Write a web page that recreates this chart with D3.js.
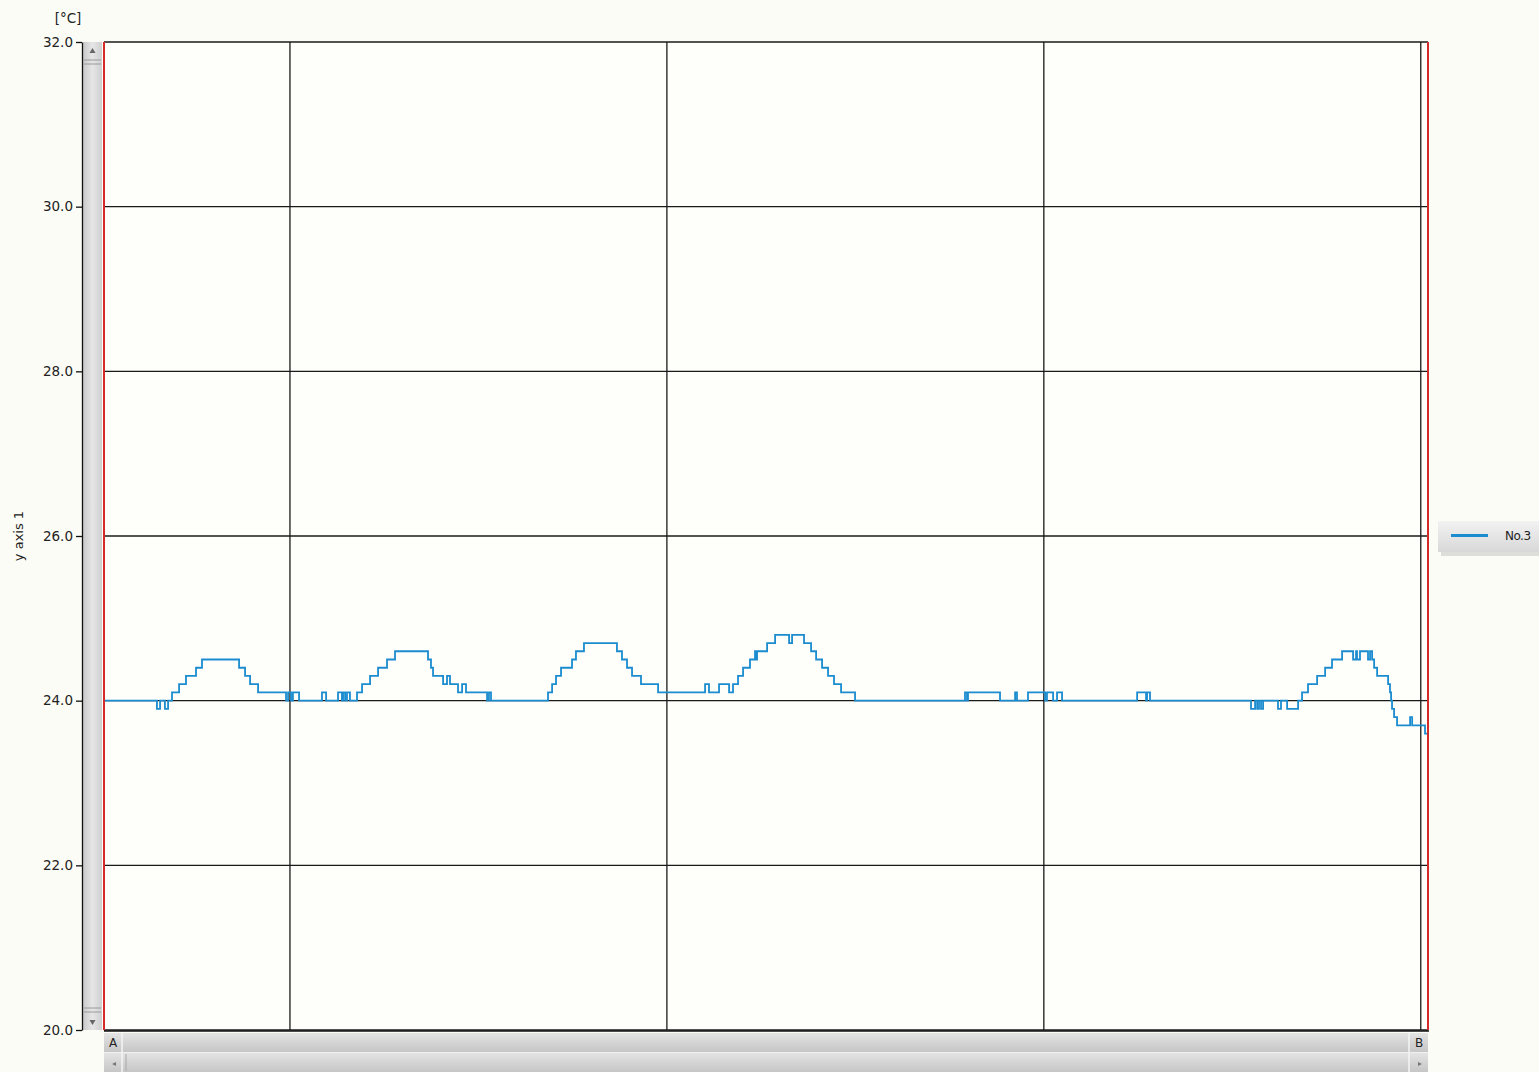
<!DOCTYPE html>
<html>
<head>
<meta charset="utf-8">
<script src="https://cdn.jsdelivr.net/npm/d3@7"></script>
<style>
  html, body { margin: 0; padding: 0; background: #fcfcf6; }
  svg { display: block; }
  text { font-family: "DejaVu Sans", Verdana, sans-serif; fill: #222; }
</style>
</head>
<body>
<div id="chart"></div>
<script>
// temperature logger No.3, time in hours from start, value in °C (step data)
var zeiter = [0.00, 3.37, 3.57, 3.88, 4.08, 4.33, 4.78, 5.22, 5.86, 6.24, 8.60, 8.98, 9.30, 9.81,
    11.59, 11.72, 11.91, 12.03, 12.42, 13.88, 14.14, 14.90, 15.15, 15.22, 15.35, 15.47, 15.66,
    16.11, 16.43, 16.94, 17.45, 18.02, 18.53, 20.63, 20.82, 20.95, 21.59, 21.84, 22.03, 22.54,
    22.80, 23.05, 24.39, 24.51, 24.64, 28.27, 28.53, 28.78, 29.10, 29.80, 30.05, 30.56, 32.66,
    32.98, 33.30, 33.62, 34.19, 35.28, 38.27, 38.52, 39.16, 39.80, 40.05, 40.37, 40.69, 41.13,
    41.45, 41.52, 41.58, 42.22, 42.73, 43.62, 43.81, 44.57, 45.02, 45.34, 45.72, 46.10, 46.48,
    46.93, 47.82, 54.82, 54.95, 55.01, 57.05, 58.01, 58.13, 58.83, 59.92, 60.04, 60.43, 60.68,
    61.00, 65.78, 66.35, 66.41, 66.60, 73.03, 73.29, 73.42, 73.54, 73.67, 73.80, 74.75, 74.94,
    75.33, 76.03, 76.28, 76.66, 77.24, 77.75, 78.19, 78.83, 79.53, 79.72, 79.78, 79.97, 80.48,
    80.61, 80.74, 80.87, 81.06, 81.76, 81.88, 81.95, 82.01, 82.14, 82.33, 83.16, 83.29, 84.11, 84.30];
var temperatur = [24.0, 23.9, 24.0, 23.9, 24.0, 24.1, 24.2, 24.3, 24.4, 24.5, 24.4, 24.3, 24.2, 24.1,
    24.0, 24.1, 24.0, 24.1, 24.0, 24.1, 24.0, 24.1, 24.0, 24.1, 24.0, 24.1, 24.0,
    24.1, 24.2, 24.3, 24.4, 24.5, 24.6, 24.5, 24.4, 24.3, 24.2, 24.3, 24.2, 24.1,
    24.2, 24.1, 24.0, 24.1, 24.0, 24.1, 24.2, 24.3, 24.4, 24.5, 24.6, 24.7, 24.6,
    24.5, 24.4, 24.3, 24.2, 24.1, 24.2, 24.1, 24.2, 24.1, 24.2, 24.3, 24.4, 24.5,
    24.6, 24.5, 24.6, 24.7, 24.8, 24.7, 24.8, 24.7, 24.6, 24.5, 24.4, 24.3, 24.2,
    24.1, 24.0, 24.1, 24.0, 24.1, 24.0, 24.1, 24.0, 24.1, 24.0, 24.1, 24.0, 24.1,
    24.0, 24.1, 24.0, 24.1, 24.0, 23.9, 24.0, 23.9, 24.0, 23.9, 24.0, 23.9, 24.0,
    23.9, 24.0, 24.1, 24.2, 24.3, 24.4, 24.5, 24.6, 24.5, 24.6, 24.5, 24.6, 24.5,
    24.6, 24.5, 24.4, 24.3, 24.2, 24.1, 24.0, 23.9, 23.8, 23.7, 23.8, 23.7, 23.6, 23.6];
var yTicks = [20, 22, 24, 26, 28, 30, 32];
var dagGrenser = [11.84, 35.84, 59.84, 83.84]; // midnatt
var serieNavn = "No.3";

var W = 1539, H = 1072;
var plot = { left: 104, right: 1428, top: 42, bottom: 1030 };

var x = d3.scaleLinear().domain([0, 84.3]).range([plot.left, plot.right]);
var y = d3.scaleLinear().domain([20, 32]).range([plot.bottom, plot.top]);

var svg = d3.select("#chart").append("svg")
    .attr("width", W)
    .attr("height", H);

var defs = svg.append("defs");
var gv = defs.append("linearGradient").attr("id", "grVert").attr("x1", 0).attr("x2", 1).attr("y1", 0).attr("y2", 0);
gv.append("stop").attr("offset", "0%").attr("stop-color", "#c9c9c9");
gv.append("stop").attr("offset", "50%").attr("stop-color", "#e6e6e6");
gv.append("stop").attr("offset", "100%").attr("stop-color", "#cfcfcf");
var gh = defs.append("linearGradient").attr("id", "grHor").attr("x1", 0).attr("x2", 0).attr("y1", 0).attr("y2", 1);
gh.append("stop").attr("offset", "0%").attr("stop-color", "#e4e4e4");
gh.append("stop").attr("offset", "50%").attr("stop-color", "#d4d4d4");
gh.append("stop").attr("offset", "100%").attr("stop-color", "#c6c6c6");
var gl = defs.append("linearGradient").attr("id", "grLeg").attr("x1", 0).attr("x2", 0).attr("y1", 0).attr("y2", 1);
gl.append("stop").attr("offset", "0%").attr("stop-color", "#f2f2f2");
gl.append("stop").attr("offset", "100%").attr("stop-color", "#d8d8d8");

// plot background
svg.append("rect")
    .attr("x", plot.left).attr("y", plot.top)
    .attr("width", plot.right - plot.left).attr("height", plot.bottom - plot.top)
    .attr("fill", "#fefefa");

// horizontal grid
svg.append("g").selectAll("line")
    .data(yTicks)
    .enter().append("line")
    .attr("x1", plot.left).attr("x2", plot.right)
    .attr("y1", function (d) { return y(d); })
    .attr("y2", function (d) { return y(d); })
    .attr("stroke", "#1a1a1a")
    .attr("stroke-width", 1.3);

// vertical grid (day boundaries)
svg.append("g").selectAll("line")
    .data(dagGrenser)
    .enter().append("line")
    .attr("x1", function (d) { return x(d); })
    .attr("x2", function (d) { return x(d); })
    .attr("y1", plot.top).attr("y2", plot.bottom)
    .attr("stroke", "#1a1a1a")
    .attr("stroke-width", 1.3);

// data line
var data = zeiter.map(function (t, i) { return { t: t, v: temperatur[i] }; });
var linje = d3.line()
    .x(function (d) { return x(d.t); })
    .y(function (d) { return y(d.v); })
    .curve(d3.curveStepAfter);
svg.append("path")
    .datum(data)
    .attr("d", linje)
    .attr("fill", "none")
    .attr("stroke", "#1b8ccf")
    .attr("stroke-width", 1.8);

// red side borders
svg.append("line").attr("x1", plot.left).attr("x2", plot.left)
    .attr("y1", plot.top).attr("y2", plot.bottom)
    .attr("stroke", "#d42a2a").attr("stroke-width", 2);
svg.append("line").attr("x1", plot.right).attr("x2", plot.right)
    .attr("y1", plot.top).attr("y2", plot.bottom)
    .attr("stroke", "#d42a2a").attr("stroke-width", 2);

// vertical scrollbar
svg.append("rect").attr("x", 83).attr("y", plot.top)
    .attr("width", 19).attr("height", plot.bottom - plot.top)
    .attr("fill", "url(#grVert)");
svg.append("path").attr("d", "M89.5,53 L92.5,48 L95.5,53 Z").attr("fill", "#666");
svg.append("path").attr("d", "M89.5,1020 L92.5,1025 L95.5,1020 Z").attr("fill", "#666");
[60, 64, 1008, 1012].forEach(function (yy) {
    svg.append("line").attr("x1", 84).attr("x2", 101).attr("y1", yy).attr("y2", yy)
        .attr("stroke", "#9a9a9a").attr("stroke-width", 1);
});

// y axis
var yAxis = svg.append("g")
    .attr("transform", "translate(82,0)")
    .call(d3.axisLeft(y).tickValues(yTicks).tickFormat(d3.format(".1f")).tickSize(6).tickSizeOuter(0));
yAxis.select(".domain").attr("stroke", "#111").attr("stroke-width", 1.3);
yAxis.selectAll(".tick line").attr("stroke", "#111").attr("stroke-width", 1.3);
yAxis.selectAll(".tick text")
    .attr("x", -9)
    .attr("font-family", "DejaVu Sans, sans-serif")
    .attr("font-size", 13.5)
    .attr("fill", "#1a1a1a");

svg.append("text").attr("x", 68).attr("y", 23)
    .attr("text-anchor", "middle").attr("font-size", 13.5)
    .text("[°C]");
svg.append("text")
    .attr("transform", "translate(23," + y(26) + ") rotate(-90)")
    .attr("text-anchor", "middle").attr("font-size", 13)
    .text("y axis 1");

// bottom frame
svg.append("line").attr("x1", plot.left).attr("x2", plot.right + 1)
    .attr("y1", plot.bottom + 1).attr("y2", plot.bottom + 1)
    .attr("stroke", "#111").attr("stroke-width", 1.5);

// horizontal scrollbars (A / B cursors)
var sb = svg.append("g");
sb.append("rect").attr("x", plot.left).attr("y", 1033).attr("width", plot.right - plot.left).attr("height", 19)
    .attr("fill", "url(#grHor)");
sb.append("rect").attr("x", plot.left).attr("y", 1053).attr("width", plot.right - plot.left).attr("height", 19)
    .attr("fill", "url(#grHor)");
[122, 1409].forEach(function (xx) {
    sb.append("line").attr("x1", xx).attr("x2", xx).attr("y1", 1033).attr("y2", 1072)
        .attr("stroke", "#f4f4f4").attr("stroke-width", 1.5);
});
sb.append("line").attr("x1", 126).attr("x2", 126).attr("y1", 1054).attr("y2", 1071)
    .attr("stroke", "#a8a8a8").attr("stroke-width", 1);
sb.append("line").attr("x1", plot.left).attr("x2", plot.right).attr("y1", 1052.5).attr("y2", 1052.5)
    .attr("stroke", "#f0f0f0").attr("stroke-width", 1);
sb.append("text").attr("x", 113).attr("y", 1047).attr("text-anchor", "middle").attr("font-size", 12).text("A");
sb.append("text").attr("x", 1419).attr("y", 1047).attr("text-anchor", "middle").attr("font-size", 12).text("B");
sb.append("path").attr("d", "M116,1062 L112,1064 L116,1066 Z").attr("fill", "#777");
sb.append("path").attr("d", "M1418,1062 L1422,1064 L1418,1066 Z").attr("fill", "#777");

// legend
var leg = svg.append("g").attr("transform", "translate(1438,521)");
leg.append("rect").attr("x", 3).attr("y", 3).attr("width", 101).attr("height", 32)
    .attr("fill", "#bdbdbd").attr("opacity", 0.5);
leg.append("rect").attr("width", 101).attr("height", 31)
    .attr("fill", "url(#grLeg)");
leg.append("line").attr("x1", 13).attr("x2", 50).attr("y1", 14.5).attr("y2", 14.5)
    .attr("stroke", "#1b8ccf").attr("stroke-width", 3);
leg.append("text").attr("x", 67).attr("y", 19).attr("font-size", 12).attr("letter-spacing", -0.5)
    .text(serieNavn);
</script>
</body>
</html>
